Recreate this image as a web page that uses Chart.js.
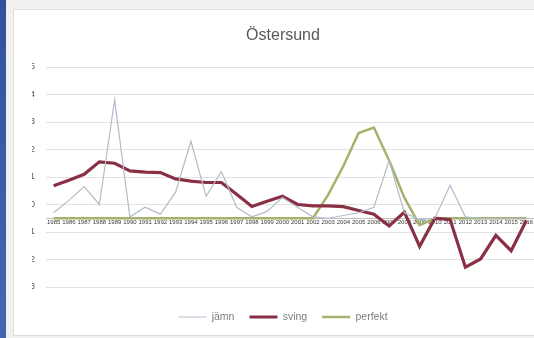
<!DOCTYPE html>
<html>
<head>
<meta charset="utf-8">
<title>Östersund</title>
<script src="https://cdn.jsdelivr.net/npm/chart.js@4.4.1/dist/chart.umd.min.js"></script>
<style>
  html, body { margin: 0; padding: 0; }
  body { width: 534px; height: 338px; background: #f1f1f1; position: relative; overflow: hidden; }
  #franja { position: absolute; left: 0; top: 0; width: 6px; height: 338px; background: linear-gradient(#34509c, #4466b2); }
  #marco { position: absolute; left: 13px; top: 9px; width: 523px; height: 327px; background: #fff; border: 1px solid #dedede; box-sizing: border-box; }
  #grafico { position: absolute; left: 14px; top: 10px; }
</style>
</head>
<body>
<div id="franja"></div>
<div id="marco"></div>
<canvas id="grafico" width="520" height="325"></canvas>
<script>
// Etiquetas del eje X (años)
var anios = [];
for (var a = 1985; a <= 2016; a++) { anios.push(String(a)); }

// Valores de cada serie
var serieJamn = [-0.3, 0.15, 0.65, 0.0, 3.8, -0.45, -0.1, -0.35, 0.45, 2.3, 0.3, 1.2, -0.1, -0.45, -0.25, 0.25,
                 -0.1, -0.45, -0.5, -0.4, -0.3, -0.1, 1.6, -0.3, -0.55, -0.5, 0.7, -0.45, -0.5, -0.5, -0.5, -0.5];
var serieSving = [0.68, 0.88, 1.1, 1.55, 1.5, 1.22, 1.18, 1.16, 0.93, 0.85, 0.8, 0.8, 0.37, -0.07, 0.12, 0.3,
                  0.0, -0.05, -0.05, -0.08, -0.22, -0.35, -0.78, -0.28, -1.52, -0.5, -0.55, -2.28, -1.98, -1.12, -1.68, -0.58];
var seriePerfekt = [-0.5, -0.5, -0.5, -0.5, -0.5, -0.5, -0.5, -0.5, -0.5, -0.5, -0.5, -0.5, -0.5, -0.5, -0.5, -0.5,
                    -0.5, -0.5, 0.35, 1.4, 2.6, 2.8, 1.6, 0.25, -0.75, -0.5, -0.5, -0.5, -0.5, -0.5, -0.5, -0.5];

var nombresSeries = ["jämn", "sving", "perfekt"];
var ticksY = [5, 4, 3, 2, 1, 0, -1, -2, -3];

var fuente = "'Liberation Sans', Arial, sans-serif";

var ctx = document.getElementById("grafico").getContext("2d");

new Chart(ctx, {
    type: "line",
    data: {
        labels: anios,
        datasets: [
            {
                label: nombresSeries[0],
                data: serieJamn,
                borderColor: "#b3bccb",
                backgroundColor: "#b3bccb",
                borderWidth: 1.2,
                pointRadius: 0,
                tension: 0
            },
            {
                label: nombresSeries[1],
                data: serieSving,
                borderColor: "#8a3045",
                backgroundColor: "#8a3045",
                borderWidth: 3.2,
                pointRadius: 0,
                tension: 0
            },
            {
                label: nombresSeries[2],
                data: seriePerfekt,
                borderColor: "#a4b36b",
                backgroundColor: "#a4b36b",
                borderWidth: 2.5,
                pointRadius: 0,
                tension: 0
            }
        ]
    },
    options: {
        responsive: false,
        animation: false,
        layout: { padding: { left: 18, right: 0, top: 0, bottom: 2.75 } },
        plugins: {
            title: {
                display: true,
                text: "Östersund",
                color: "#595959",
                font: { family: fuente, size: 16, weight: "normal" },
                padding: { top: 16.4, bottom: 21.4 }
            },
            legend: {
                position: "bottom",
                // título vacío para separar la leyenda del gráfico
                title: { display: true, text: " ", font: { size: 8, lineHeight: 1 }, padding: { top: 1.75, bottom: 0 } },
                labels: {
                    usePointStyle: true,
                    pointStyle: "line",
                    pointStyleWidth: 28,
                    padding: 15,
                    color: "#7f7f7f",
                    font: { family: fuente, size: 10.5 }
                }
            },
            tooltip: { enabled: false }
        },
        scales: {
            x: {
                position: { y: -0.5 },
                offset: true,
                grid: { display: false, drawTicks: false },
                border: { display: true, color: "#bfbfbf", width: 1 },
                ticks: {
                    autoSkip: false,
                    maxRotation: 0,
                    minRotation: 0,
                    padding: 0,
                    color: "#3a3a3a",
                    font: { family: fuente, size: 6 }
                }
            },
            y: {
                min: -3,
                max: 5,
                afterFit: function (scale) { scale.width = 14; },
                afterBuildTicks: function (scale) {
                    scale.ticks = ticksY.map(function (v) { return { value: v }; });
                },
                grid: { color: "#e2e2e2", drawTicks: false },
                border: { display: false },
                ticks: {
                    padding: 11,
                    color: "#595959",
                    font: { family: fuente, size: 9 }
                }
            }
        }
    }
});
</script>
</body>
</html>
